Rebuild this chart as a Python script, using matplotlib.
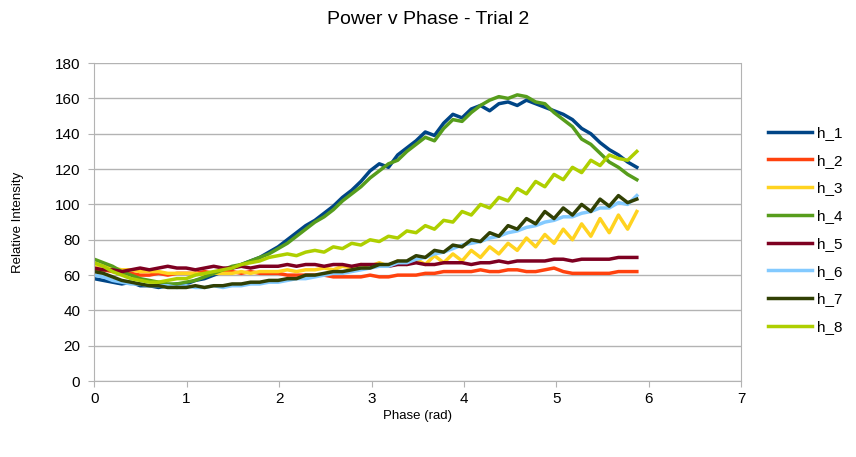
import numpy as np
import matplotlib.pyplot as plt

plt.rcParams['font.family'] = ['Liberation Sans', 'DejaVu Sans']

# phase samples (rad)
phase = np.linspace(0, 5.87, 60)

h_1 = [58, 57, 56, 55, 56, 54, 54, 53, 54, 55,
       55, 57, 58, 60, 62, 64, 66, 68, 70, 73,
       76, 80, 84, 88, 91, 95, 99, 104, 108, 113,
       119, 123, 121, 128, 132, 136, 141, 139, 146, 151,
       149, 154, 156, 153, 157, 158, 156, 159, 157, 155,
       153, 151, 148, 143, 140, 135, 131, 128, 124, 121]
h_2 = [62, 63, 62, 61, 61, 60, 60, 61, 60, 61,
       61, 61, 62, 61, 62, 62, 61, 62, 61, 61,
       61, 60, 60, 60, 60, 60, 59, 59, 59, 59,
       60, 59, 59, 60, 60, 60, 61, 61, 62, 62,
       62, 62, 63, 62, 62, 63, 63, 62, 62, 63,
       64, 62, 61, 61, 61, 61, 61, 62, 62, 62]
h_3 = [66, 65, 64, 63, 63, 62, 62, 62, 61, 61,
       61, 61, 60, 61, 61, 61, 62, 61, 62, 62,
       62, 63, 62, 63, 63, 64, 63, 65, 64, 66,
       65, 67, 65, 68, 66, 69, 66, 71, 67, 72,
       68, 74, 70, 76, 72, 78, 74, 81, 76, 83,
       78, 86, 80, 89, 82, 92, 84, 94, 86, 96]
h_4 = [69, 67, 65, 62, 60, 58, 57, 56, 55, 55,
       56, 57, 59, 61, 63, 65, 66, 68, 70, 72,
       75, 78, 82, 86, 90, 93, 97, 102, 106, 110,
       115, 119, 123, 125, 130, 134, 138, 136, 143, 148,
       147, 152, 156, 159, 161, 160, 162, 161, 158, 157,
       152, 148, 144, 137, 134, 129, 124, 121, 117, 114]
h_5 = [64, 63, 63, 62, 63, 64, 63, 64, 65, 64,
       64, 63, 64, 65, 64, 64, 65, 64, 65, 65,
       65, 66, 65, 66, 66, 65, 66, 66, 65, 66,
       66, 66, 65, 66, 66, 67, 66, 66, 67, 67,
       67, 66, 67, 67, 68, 67, 68, 68, 68, 68,
       69, 69, 68, 69, 69, 69, 69, 70, 70, 70]
h_6 = [60, 59, 57, 56, 55, 55, 54, 54, 54, 53,
       54, 53, 53, 54, 53, 54, 54, 55, 55, 56,
       56, 57, 58, 58, 59, 60, 61, 61, 62, 63,
       64, 65, 65, 67, 67, 69, 70, 72, 73, 75,
       77, 78, 79, 81, 82, 84, 85, 87, 88, 90,
       91, 93, 93, 95, 96, 98, 98, 101, 100, 105]
h_7 = [62, 61, 59, 57, 56, 55, 54, 54, 53, 53,
       53, 54, 53, 54, 54, 55, 55, 56, 56, 57,
       57, 58, 58, 60, 60, 61, 62, 62, 63, 64,
       64, 66, 66, 68, 68, 71, 70, 74, 73, 77,
       76, 80, 79, 84, 82, 88, 86, 92, 89, 96,
       92, 98, 94, 100, 96, 103, 99, 105, 101, 103]
h_8 = [67, 65, 62, 60, 58, 57, 56, 56, 57, 58,
       58, 60, 61, 62, 63, 64, 66, 67, 68, 70,
       71, 72, 71, 73, 74, 73, 76, 75, 78, 77,
       80, 79, 82, 81, 85, 84, 88, 86, 91, 90,
       96, 94, 100, 98, 104, 102, 109, 106, 113, 110,
       117, 114, 121, 118, 125, 122, 128, 126, 125, 130]

series = [h_1, h_2, h_3, h_4, h_5, h_6, h_7, h_8]
names = ['h_1', 'h_2', 'h_3', 'h_4', 'h_5', 'h_6', 'h_7', 'h_8']
colors = ['#004586', '#ff420e', '#ffd320', '#579d1c',
          '#7e0021', '#83caff', '#314004', '#aecf00']

fig = plt.figure(figsize=(8.56, 4.57), dpi=100)
ax = fig.add_axes([0.110, 0.166, 0.756, 0.696])

for ys, name, c in zip(series, names, colors):
    ax.plot(phase, ys, color=c, lw=2.5, label=name)

ax.set_xlim(0, 7)
ax.set_ylim(0, 180)
ax.set_xticks(range(0, 8))
ax.set_yticks(range(0, 181, 20))
ax.grid(axis='y', color='#b3b3b3', lw=1)
ax.set_axisbelow(True)
for s in ['left', 'bottom', 'right']:
    ax.spines[s].set_color('#b3b3b3')
ax.spines['top'].set_visible(False)
ax.tick_params(colors='#b3b3b3', labelcolor='black', labelsize=11, length=4)
ax.tick_params(axis='y', pad=6)

ax.set_xlabel('Phase (rad)', fontsize=9.5, labelpad=3)
ax.set_ylabel('Relative Intensity', fontsize=9.5, labelpad=22)
fig.suptitle('Power v Phase - Trial 2', fontsize=14, y=0.975)

ax.legend(loc='center left', bbox_to_anchor=(1.02, 0.475), frameon=False,
          fontsize=11, handlelength=2.9, labelspacing=0.9, handletextpad=0.3)

fig.savefig('out.png', dpi=100)
